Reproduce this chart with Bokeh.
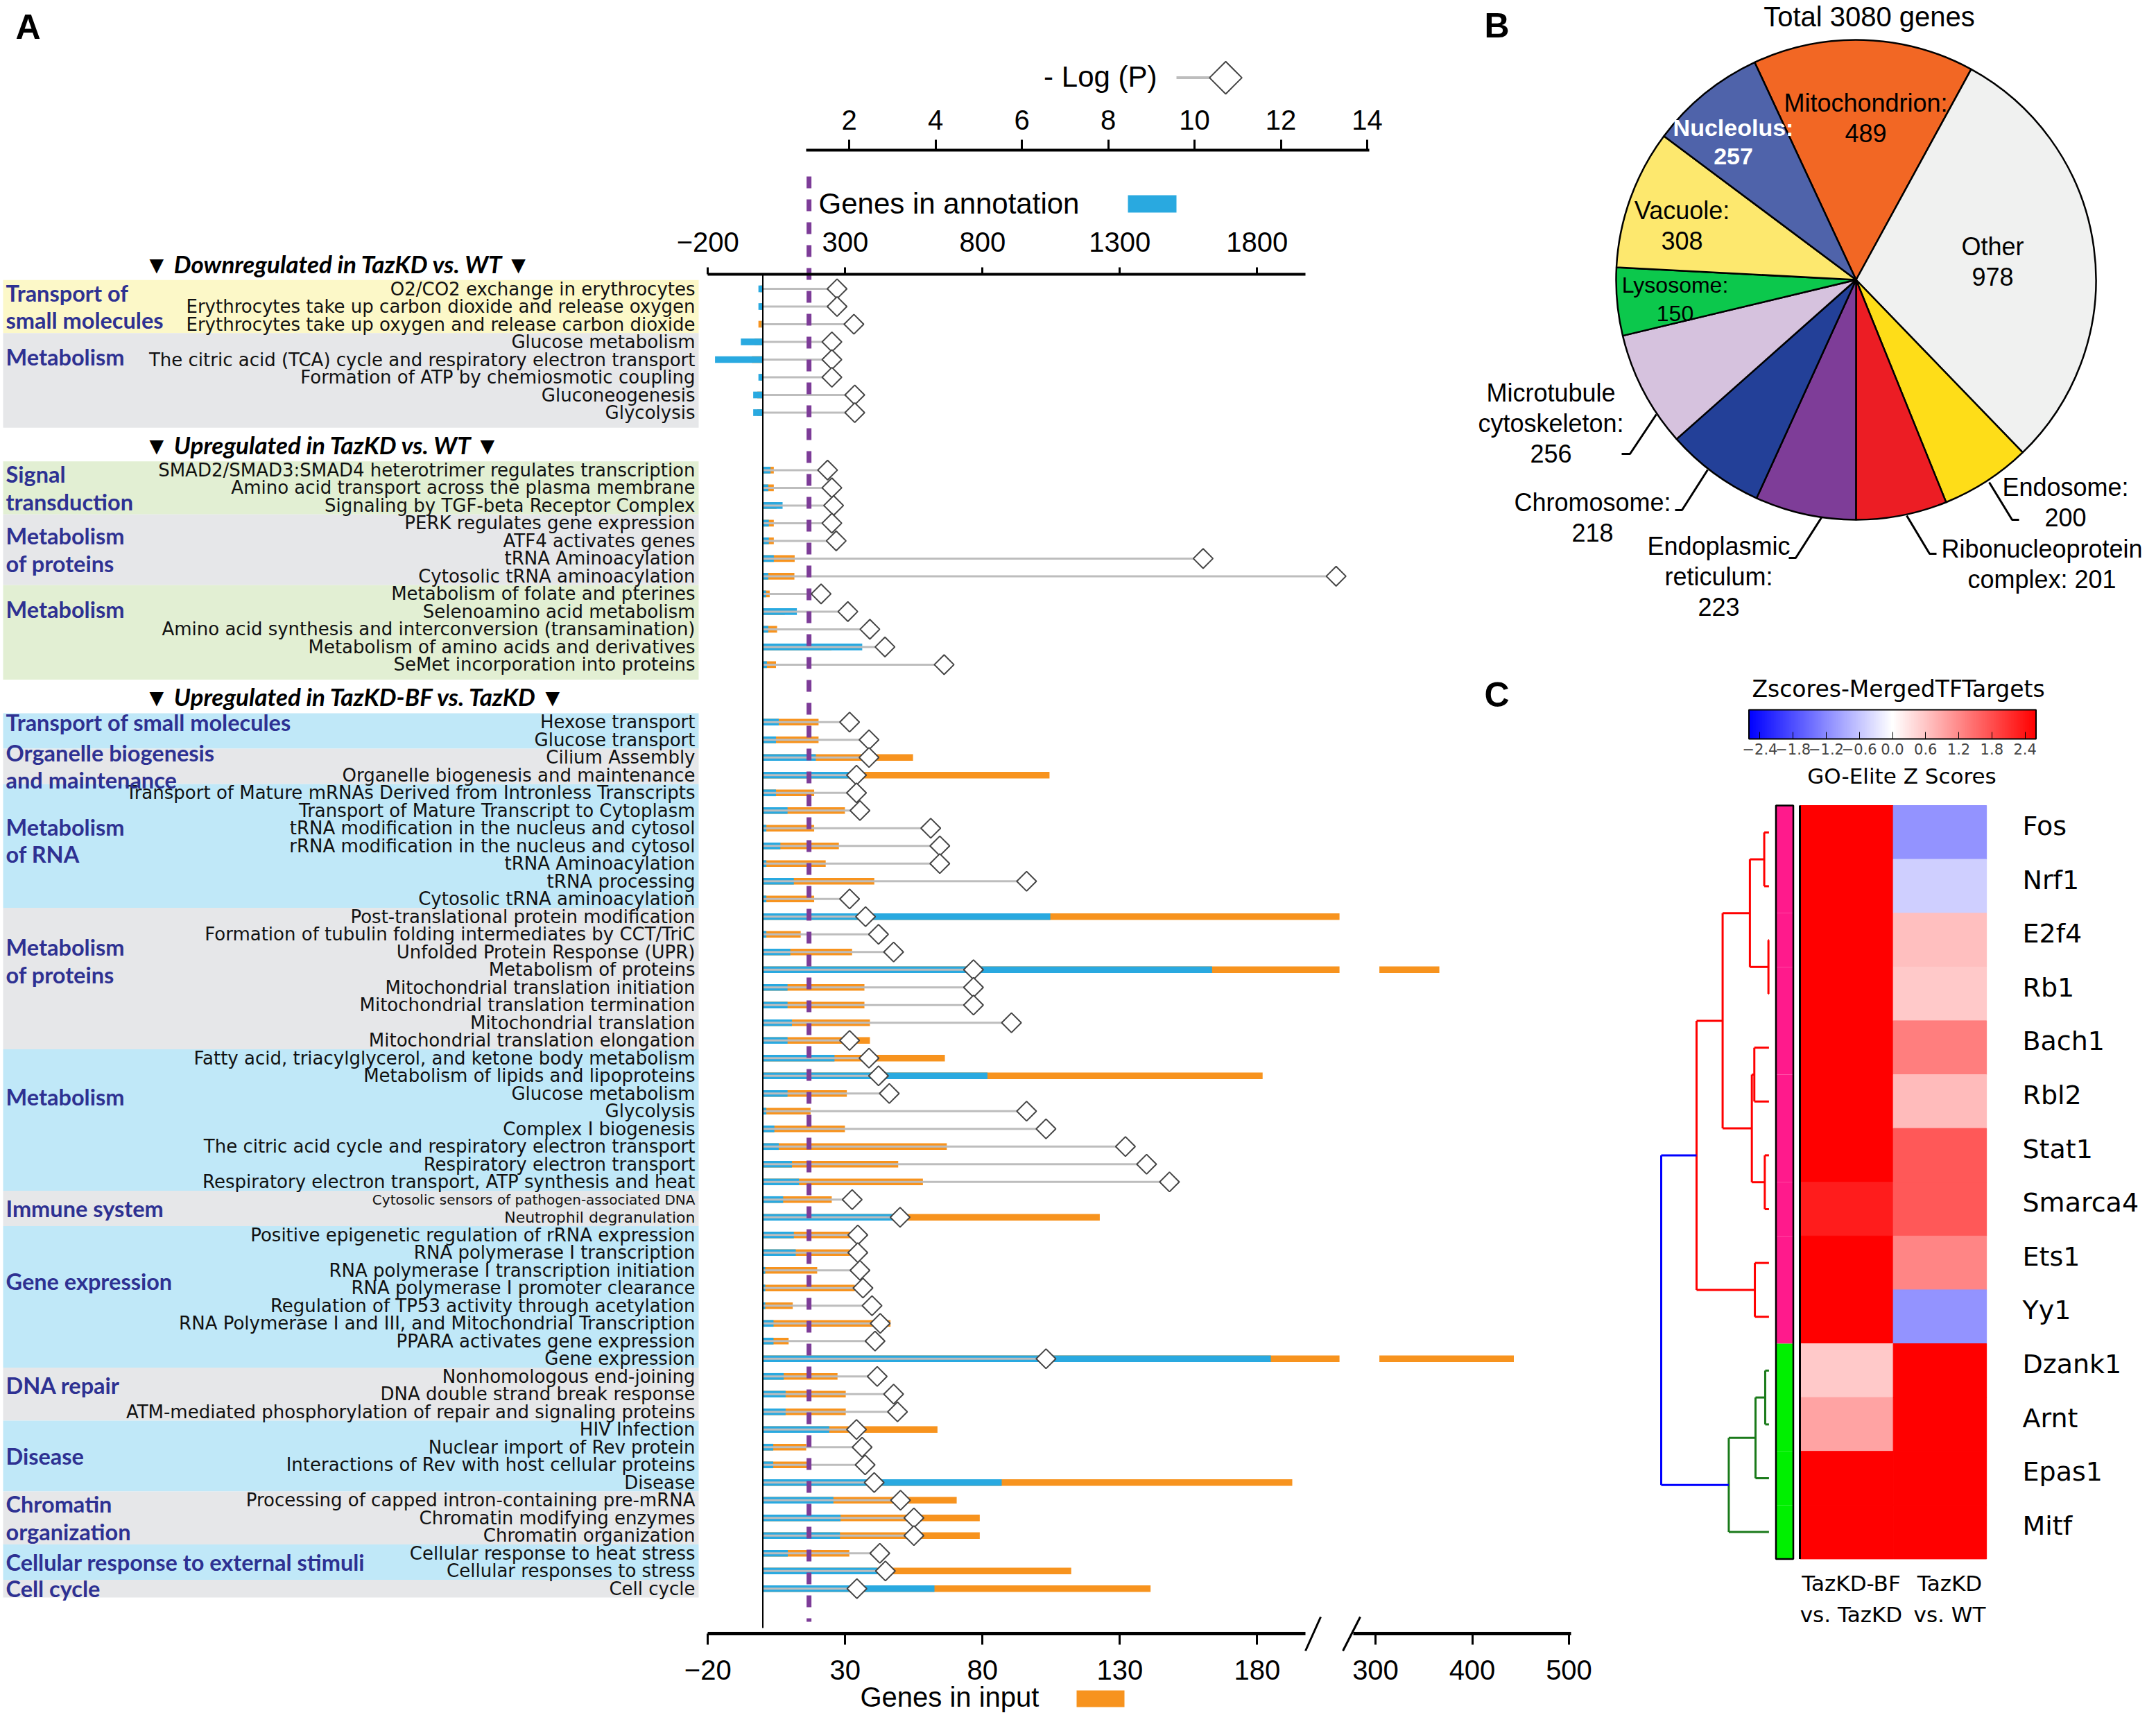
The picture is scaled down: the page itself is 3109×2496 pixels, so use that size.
import math
from bokeh.plotting import figure
from bokeh.models import (Range1d, LinearAxis, FixedTicker, ColumnDataSource, AllLabels,
                          LinearColorMapper, ColorBar, CustomJSTickFormatter, Grid)
from bokeh.core.properties import value
from bokeh.transform import transform
from bokeh.embed import file_html
from bokeh.resources import INLINE

# ======================= DATA : panel A =======================
section_titles = ["Downregulated in TazKD vs. WT",
                  "Upregulated in TazKD vs. WT",
                  "Upregulated in TazKD-BF vs. TazKD"]
section_group_counts = [2, 3, 12]

group_labels = ["Transport of\nsmall molecules", "Metabolism",
                "Signal\ntransduction", "Metabolism\nof proteins", "Metabolism",
                "Transport of small molecules", "Organelle biogenesis\nand maintenance",
                "Metabolism\nof RNA", "Metabolism\nof proteins", "Metabolism",
                "Immune system", "Gene expression", "DNA repair", "Disease",
                "Chromatin\norganization", "Cellular response to external stimuli",
                "Cell cycle"]
group_sizes = [3, 5, 3, 4, 5, 2, 2, 7, 8, 8, 2, 8, 3, 4, 3, 2, 1]

pathways = [
    "O2/CO2 exchange in erythrocytes",
    "Erythrocytes take up carbon dioxide and release oxygen",
    "Erythrocytes take up oxygen and release carbon dioxide",
    "Glucose metabolism",
    "The citric acid (TCA) cycle and respiratory electron transport",
    "Formation of ATP by chemiosmotic coupling",
    "Gluconeogenesis",
    "Glycolysis",
    "SMAD2/SMAD3:SMAD4 heterotrimer regulates transcription",
    "Amino acid transport across the plasma membrane",
    "Signaling by TGF-beta Receptor Complex",
    "PERK regulates gene expression",
    "ATF4 activates genes",
    "tRNA Aminoacylation",
    "Cytosolic tRNA aminoacylation",
    "Metabolism of folate and pterines",
    "Selenoamino acid metabolism",
    "Amino acid synthesis and interconversion (transamination)",
    "Metabolism of amino acids and derivatives",
    "SeMet incorporation into proteins",
    "Hexose transport",
    "Glucose transport",
    "Cilium Assembly",
    "Organelle biogenesis and maintenance",
    "Transport of Mature mRNAs Derived from Intronless Transcripts",
    "Transport of Mature Transcript to Cytoplasm",
    "tRNA modification in the nucleus and cytosol",
    "rRNA modification in the nucleus and cytosol",
    "tRNA Aminoacylation",
    "tRNA processing",
    "Cytosolic tRNA aminoacylation",
    "Post-translational protein modification",
    "Formation of tubulin folding intermediates by CCT/TriC",
    "Unfolded Protein Response (UPR)",
    "Metabolism of proteins",
    "Mitochondrial translation initiation",
    "Mitochondrial translation termination",
    "Mitochondrial translation",
    "Mitochondrial translation elongation",
    "Fatty acid, triacylglycerol, and ketone body metabolism",
    "Metabolism of lipids and lipoproteins",
    "Glucose metabolism",
    "Glycolysis",
    "Complex I biogenesis",
    "The citric acid cycle and respiratory electron transport",
    "Respiratory electron transport",
    "Respiratory electron transport, ATP synthesis and heat",
    "Cytosolic sensors of pathogen-associated DNA",
    "Neutrophil degranulation",
    "Positive epigenetic regulation of rRNA expression",
    "RNA polymerase I transcription",
    "RNA polymerase I transcription initiation",
    "RNA polymerase I promoter clearance",
    "Regulation of TP53 activity through acetylation",
    "RNA Polymerase I and III, and Mitochondrial Transcription",
    "PPARA activates gene expression",
    "Gene expression",
    "Nonhomologous end-joining",
    "DNA double strand break response",
    "ATM-mediated phosphorylation of repair and signaling proteins",
    "HIV Infection",
    "Nuclear import of Rev protein",
    "Interactions of Rev with host cellular proteins",
    "Disease",
    "Processing of capped intron-containing pre-mRNA",
    "Chromatin modifying enzymes",
    "Chromatin organization",
    "Cellular response to heat stress",
    "Cellular responses to stress",
    "Cell cycle",
]

genes_annotation = [
    -16, -16, -4, -80, -174, -16, -35, -35,
    28, 20, 72, 22, 22, 40, 20, 12, 124, 20, 362, 15,
    58, 48, 193, 316, 48, 90, 13, 64, 13, 113, 13,
    1047, 13, 100, 1636, 90, 90, 106, 90,
    261, 818, 90, 13, 42, 58, 106, 132,
    74, 477,
    113, 120, 9, 9, 9, 39, 39, 1850,
    76, 83, 83,
    242, 38, 38, 870,
    257, 283, 281,
    91, 417,
    625,
]

genes_input = [
    -1, -1, -1.6, -3, -4, -1, -2, -2,
    4, 4, 5, 4, 4, 11.6, 11.5, 2.5, 8, 5.2, 25, 4.8,
    20.3, 20.3, 54.7, 104.4, 18.7, 29.9, 18.7, 27.7, 22.9, 40.6, 18.7,
    280, 13.8, 32.5, 366, 37, 37, 39, 39,
    66.3, 182, 30.6, 17.4, 29.9, 67, 49.3, 58.3,
    25.1, 122.7,
    31.7, 31.7, 19.8, 33.5, 10.9, 46.5, 9.4, 443,
    27.2, 30.2, 30.2,
    63.6, 15.8, 16.7, 192.8,
    70.6, 79, 79,
    31.5, 112.3,
    141.2,
]

neg_log_p = [
    1.72, 1.72, 2.11, 1.60, 1.60, 1.60, 2.13, 2.13,
    1.50, 1.60, 1.64, 1.60, 1.70, 10.20, 13.28, 1.35, 1.97, 2.48, 2.83, 4.20,
    2.01, 2.46, 2.46, 2.17, 2.17, 2.25, 3.89, 4.10, 4.10, 6.11, 2.01,
    2.38, 2.68, 3.03, 4.88, 4.88, 4.88, 5.76, 2.01,
    2.46, 2.68, 2.93, 6.11, 6.56, 8.40, 8.89, 9.42,
    2.07, 3.18,
    2.20, 2.20, 2.25, 2.32, 2.53, 2.72, 2.60, 6.56,
    2.65, 3.03, 3.12,
    2.17, 2.30, 2.37, 2.58,
    3.19, 3.50, 3.50,
    2.71, 2.84,
    2.18,
]
p_threshold = 1.07

logp_ticks = [2, 4, 6, 8, 10, 12, 14]
annotation_ticks = [-200, 300, 800, 1300, 1800]
input_ticks_low = [-20, 30, 80, 130, 180]
input_ticks_high = [300, 400, 500]

# ======================= DATA : panel B =======================
pie_names = ["Mitochondrion", "Other", "Endosome", "Ribonucleoprotein complex",
             "Endoplasmic reticulum", "Chromosome", "Microtubule cytoskeleton",
             "Lysosome", "Vacuole", "Nucleolus"]
pie_counts = [489, 978, 200, 201, 223, 218, 256, 150, 308, 257]
pie_label_fmt = ["Mitochondrion:\n{n}", "Other\n{n}", "Endosome:\n{n}",
                 "Ribonucleoprotein\ncomplex: {n}", "Endoplasmic\nreticulum:\n{n}",
                 "Chromosome:\n{n}", "Microtubule\ncytoskeleton:\n{n}",
                 "Lysosome:\n{n}", "Vacuole:\n{n}", "Nucleolus:\n{n}"]
pie_title = "Total 3080 genes"

# ======================= DATA : panel C =======================
tf_names = ["Fos", "Nrf1", "E2f4", "Rb1", "Bach1", "Rbl2", "Stat1", "Smarca4",
            "Ets1", "Yy1", "Dzank1", "Arnt", "Epas1", "Mitf"]
z_bf_vs_kd = [2.6, 2.6, 2.6, 2.6, 2.6, 2.6, 2.6, 2.3, 2.6, 2.6, 0.55, 0.95, 2.6, 2.6]
z_kd_vs_wt = [-1.1, -0.5, 0.65, 0.55, 1.3, 0.7, 1.7, 1.7, 1.25, -1.1, 2.6, 2.6, 2.6, 2.6]
comparisons = ["TazKD-BF\nvs. TazKD", "TazKD\nvs. WT"]
tf_cluster = [1] * 10 + [2] * 4
# dendrogram merges (leaves 0..13, new nodes numbered from 14)
merge_a = [0, 2, 14, 4, 6, 17, 16, 8, 20, 10, 23, 24, 22]
merge_b = [1, 3, 15, 5, 7, 18, 19, 9, 21, 11, 12, 13, 25]
merge_height = [0.044, 0.005, 0.177, 0.136, 0.039, 0.159, 0.43, 0.131, 0.672,
                0.035, 0.125, 0.373, 1.0]
merge_cluster = [1, 1, 1, 1, 1, 1, 1, 1, 1, 2, 2, 2, 0]
cbar_ticks = [-2.4, -1.8, -1.2, -0.6, 0.0, 0.6, 1.2, 1.8, 2.4]

# ======================= STYLE / LAYOUT =======================
W, H = 3093, 2480
LO_X, HI_X, LO_Y, HI_Y = 0, W, 0, H

BLUE = "#29a9e0"
ORANGE = "#f7931e"
GRAY_LINE = "#bdbdbd"
PURPLE = "#7d3c98"
GROUP_BLUE = "#2e3192"
band_colors = ["#fcf8c8", "#e6e7e9", "#e2efd3", "#e6e7e9", "#e2efd3",
               "#c0e8f8", "#e6e7e9", "#c0e8f8", "#e6e7e9", "#c0e8f8", "#e6e7e9",
               "#c0e8f8", "#e6e7e9", "#c0e8f8", "#e6e7e9", "#c0e8f8", "#e6e7e9"]
group_label_shift = [0, -1.15, 0, 0, -1.15, -0.5, 0, -0.3, -1.0, -1.3, 0, -0.9,
                     -0.5, 0, 0, 0, 0]
pie_colors = ["#f26724", "#f0f1f0", "#fedd18", "#ec1d24", "#7e3d98", "#234098",
              "#d6c2de", "#0cc84c", "#fde86e", "#4f63aa"]
cluster_colors = {1: "#ff1a8c", 2: "#00f000"}
dend_colors = {0: "#0000ff", 1: "#ff0000", 2: "#1a7a1a"}


def rng(v0, p0, s, lo, hi):
    """Range such that value v0 sits at pixel p0 with s pixels per unit."""
    return Range1d(v0 + (lo - p0) / s, v0 + (hi - p0) / s)


ROW_PX0, ROW_PITCH = 416.0, 25.5
p = figure(width=W, height=H,
           x_range=rng(0, 1099.5, 3.96, LO_X, HI_X),          # genes in input (linear part)
           y_range=rng(0, ROW_PX0, ROW_PITCH, HI_Y, LO_Y),     # pathway rows, downward
           output_backend="svg", toolbar_location=None,
           x_axis_location=None, y_axis_location=None,
           min_border=0, outline_line_color=None,
           background_fill_color="white", border_fill_color="white")
for r in list(p.center):
    if isinstance(r, Grid):
        r.visible = False

p.extra_x_ranges = {
    "px": Range1d(LO_X, HI_X),
    "annot": rng(0, 1099.5, 0.396, LO_X, HI_X),
    "logp": rng(0, 1099.5, 62.25, LO_X, HI_X),
    "big": rng(300, 1983, 1.395, LO_X, HI_X),
    "piex": rng(0, 2676, 1.0, LO_X, HI_X),
    "hx": rng(0, 2662.4, 134.5, LO_X, HI_X),
    "dx": rng(0, 2550.4, -155.4, LO_X, HI_X),
}
p.extra_y_ranges = {
    "py": Range1d(HI_Y, LO_Y),
    "piey": rng(0, 403, -1.0, HI_Y, LO_Y),
    "hy": rng(0, 1199.8, 77.6, HI_Y, LO_Y),
}

# ---------- row positions ----------
SECTION_GAP = 2.25
row_pos, group_first, group_last, section_first, section_last = [], [], [], [], []
pos, gi = 0.0, 0
for s, ng in enumerate(section_group_counts):
    if s > 0:
        pos += SECTION_GAP
    section_first.append(pos)
    for g in range(ng):
        group_first.append(pos)
        for k in range(group_sizes[gi]):
            row_pos.append(pos)
            pos += 1
        group_last.append(pos - 1)
        gi += 1
    section_last.append(pos - 1)

# ---------- label panel ----------
band_top, band_bottom = [], []
for g in range(len(group_labels)):
    top = group_first[g] - 0.5
    bot = group_last[g] + 0.5
    if group_last[g] in section_last[:2]:
        bot += 0.35
    band_top.append(top)
    band_bottom.append(bot)
p.quad(left=4, right=1007, top=band_top, bottom=band_bottom, fill_color=band_colors,
       line_color=None, x_range_name="px")

small_rows = {"Cytosolic sensors of pathogen-associated DNA": "20px",
              "Neutrophil degranulation": "22px"}
row_font_sizes = [small_rows.get(n, "26px") for n in pathways]
p.text(x=1002, y=row_pos, text=pathways, text_align="right", text_baseline="middle",
       text_font=value("DejaVu Sans"), text_font_size=row_font_sizes,
       text_color="#111111", x_range_name="px")

group_y = [(group_first[g] + group_last[g]) / 2 + group_label_shift[g]
           for g in range(len(group_labels))]
p.text(x=8, y=group_y, text=group_labels, text_align="left", text_baseline="middle",
       text_font=value("Lato"), text_font_style="bold", text_font_size="32.5px",
       text_line_height=1.02, text_color=GROUP_BLUE, x_range_name="px")

header_y = [sf - 1.45 for sf in section_first]
p.text(x=208, y=header_y, text=["\u25BC  " + t + "  \u25BC" for t in section_titles],
       text_align="left", text_baseline="middle", text_font=value("Lato"),
       text_font_style="bold italic", text_font_size="35px", text_color="black",
       x_range_name="px")

# ---------- bars ----------
BREAK_LO = 210.0      # input-axis position where the broken bar stops
BREAK_HI = 304.0      # value where the bar resumes on the compressed scale
BAR_H = 0.38
orange_right = [min(v, BREAK_LO) for v in genes_input]
p.hbar(y=row_pos, left=0, right=orange_right, height=BAR_H, fill_color=ORANGE,
       line_color=None)
big_rows = [r for r, v in zip(row_pos, genes_input) if v > BREAK_HI]
big_vals = [v for v in genes_input if v > BREAK_HI]
p.hbar(y=big_rows, left=BREAK_HI, right=big_vals, height=BAR_H, fill_color=ORANGE,
       line_color=None, x_range_name="big")
p.hbar(y=row_pos, left=0, right=genes_annotation, height=BAR_H, fill_color=BLUE,
       line_color=None, x_range_name="annot")
p.segment(x0=0, y0=row_pos, x1=neg_log_p, y1=row_pos, line_color=GRAY_LINE,
          line_width=3, x_range_name="logp")

# zero line & threshold line
p.segment(x0=[0], y0=[395], x1=[0], y1=[2347], line_color="black", line_width=2,
          y_range_name="py")
p.segment(x0=[p_threshold], y0=[254], x1=[p_threshold], y1=[2338], line_color=PURPLE,
          line_width=7, line_dash="17 16", x_range_name="logp", y_range_name="py")

p.scatter(x=neg_log_p, y=row_pos, marker="square", angle=math.pi / 4, size=20,
          fill_color="white", line_color="#444444", line_width=2, x_range_name="logp")

# ---------- axes ----------
def style_axis(ax, tick_out, standoff, lw=4):
    ax.axis_line_width = lw
    ax.axis_line_color = "black"
    ax.major_tick_line_width = 3
    ax.major_tick_line_color = "black"
    ax.major_tick_out = tick_out
    ax.major_tick_in = 0
    ax.minor_tick_out = 0
    ax.minor_tick_in = 0
    ax.major_label_text_font = "Liberation Sans"
    ax.major_label_text_font_size = "40px"
    ax.major_label_text_color = "black"
    ax.major_label_standoff = standoff


ax_logp = LinearAxis(x_range_name="logp", y_range_name="py", fixed_location=215.6,
                     bounds=(1.0, 14.05), ticker=FixedTicker(ticks=logp_ticks))
style_axis(ax_logp, 15, 14)
p.add_layout(ax_logp, "above")

ax_ann = LinearAxis(x_range_name="annot", y_range_name="py", fixed_location=395,
                    bounds=(-200, 1977), ticker=FixedTicker(ticks=annotation_ticks))
style_axis(ax_ann, 10, 23)
p.add_layout(ax_ann, "above")

ax_in1 = LinearAxis(y_range_name="py", fixed_location=2355, bounds=(-20, 197.5),
                    ticker=FixedTicker(ticks=input_ticks_low))
style_axis(ax_in1, 16, 22, lw=5)
p.add_layout(ax_in1, "below")

ax_in2 = LinearAxis(x_range_name="big", y_range_name="py", fixed_location=2355,
                    bounds=(277, 502), ticker=FixedTicker(ticks=input_ticks_high))
style_axis(ax_in2, 16, 22, lw=5)
p.add_layout(ax_in2, "below")

# axis break marks
p.segment(x0=[1882, 1936], y0=[2380, 2380], x1=[1904, 1961], y1=[2331, 2331],
          line_color="black", line_width=3, x_range_name="px", y_range_name="py")

# legends of panel A
p.text(x=[1668], y=[110], text=["- Log (P)"], text_align="right", text_baseline="middle",
       text_font=value("Liberation Sans"), text_font_size="42px", x_range_name="px",
       y_range_name="py")
p.segment(x0=[1696], y0=[111.6], x1=[1750], y1=[111.6], line_color=GRAY_LINE, line_width=4,
          x_range_name="px", y_range_name="py")
p.scatter(x=[1767], y=[111.6], marker="square", angle=math.pi / 4, size=33,
          fill_color="white", line_color="#444444", line_width=2, x_range_name="px",
          y_range_name="py")
p.text(x=[1180], y=[293], text=["Genes in annotation"], text_align="left",
       text_baseline="middle", text_font=value("Liberation Sans"), text_font_size="42px",
       x_range_name="px", y_range_name="py")
p.quad(left=[1626], right=[1696], top=[281], bottom=[306], fill_color=BLUE, line_color=None,
       x_range_name="px", y_range_name="py")
p.text(x=[1240], y=[2446], text=["Genes in input"], text_align="left",
       text_baseline="middle", text_font=value("Liberation Sans"), text_font_size="40px",
       x_range_name="px", y_range_name="py")
p.quad(left=[1552], right=[1621], top=[2437], bottom=[2461], fill_color=ORANGE,
       line_color=None, x_range_name="px", y_range_name="py")

# panel letters
p.text(x=[22, 2140, 2140], y=[38, 36, 1001], text=["A", "B", "C"], text_align="left",
       text_baseline="middle", text_font=value("Liberation Sans"), text_font_style="bold",
       text_font_size="50px", x_range_name="px", y_range_name="py")

# ======================= panel B : pie =======================
total = float(sum(pie_counts))
PIE_START = math.radians(115)
ends, starts, acc = [], [], 0.0
for c in pie_counts:
    starts.append(PIE_START - acc / total * 2 * math.pi)
    acc += c
    ends.append(PIE_START - acc / total * 2 * math.pi)
p.wedge(x=0, y=0, radius=346, start_angle=starts, end_angle=ends, direction="clock",
        fill_color=pie_colors, line_color="black", line_width=2.5,
        x_range_name="piex", y_range_name="piey")

pie_labels = [f.format(n=c) for f, c in zip(pie_label_fmt, pie_counts)]
label_xy = {"Mitochondrion": (2690, 170), "Other": (2873, 377), "Endosome": (2978, 724),
            "Ribonucleoprotein complex": (2944, 813), "Endoplasmic reticulum": (2478, 831),
            "Chromosome": (2296, 746), "Microtubule cytoskeleton": (2236, 610),
            "Lysosome": (2415, 431), "Vacuole": (2425, 325), "Nucleolus": (2499, 204)}
normal = [i for i, n in enumerate(pie_names) if n not in ("Nucleolus", "Lysosome")]
p.text(x=[label_xy[pie_names[i]][0] for i in normal],
       y=[label_xy[pie_names[i]][1] for i in normal],
       text=[pie_labels[i] for i in normal], text_align="center", text_baseline="middle",
       text_font=value("Liberation Sans"), text_font_size="36px", text_line_height=1.08,
       text_color="black", x_range_name="px", y_range_name="py")
i_n = pie_names.index("Nucleolus")
p.text(x=[label_xy["Nucleolus"][0]], y=[label_xy["Nucleolus"][1]], text=[pie_labels[i_n]],
       text_align="center", text_baseline="middle", text_font=value("Liberation Sans"),
       text_font_style="bold", text_font_size="34px", text_line_height=1.08,
       text_color="white", x_range_name="px", y_range_name="py")
i_l = pie_names.index("Lysosome")
p.text(x=[label_xy["Lysosome"][0]], y=[label_xy["Lysosome"][1]], text=[pie_labels[i_l]],
       text_align="center", text_baseline="middle", text_font=value("Liberation Sans"),
       text_font_size="32px", text_line_height=1.12, text_color="black",
       x_range_name="px", y_range_name="py")
p.text(x=[2695], y=[1], text=[pie_title], text_align="center", text_baseline="top",
       text_font=value("Liberation Sans"), text_font_size="40px", x_range_name="px",
       y_range_name="py")
# leader lines
p.multi_line(xs=[[2338, 2350, 2388], [2415, 2425, 2462], [2579, 2589, 2626],
                 [2792, 2782, 2749], [2911, 2901, 2868]],
             ys=[[654, 654, 597], [735, 735, 677], [804, 804, 746],
                 [798, 798, 743], [749, 749, 695]],
             line_color="black", line_width=3, x_range_name="px", y_range_name="py")

# ======================= panel C : heatmap =======================
def blend(c1, c2, t):
    return "#%02x%02x%02x" % tuple(int(round(a + (b - a) * t)) for a, b in zip(c1, c2))


palette = [blend((0, 0, 255), (255, 255, 255), i / 127) for i in range(128)] + \
          [blend((255, 255, 255), (255, 0, 0), i / 127) for i in range(128)]
mapper = LinearColorMapper(palette=palette, low=-2.6, high=2.6)

n_tf = len(tf_names)
hm = ColumnDataSource(dict(col=[0] * n_tf + [1] * n_tf,
                           row=list(range(n_tf)) * 2,
                           z=z_bf_vs_kd + z_kd_vs_wt))
p.rect(x="col", y="row", width=1, height=1, source=hm,
       fill_color=transform("z", mapper), line_color=transform("z", mapper), line_width=1,
       x_range_name="hx", y_range_name="hy")
# heatmap left edge line
p.segment(x0=[2595], y0=[-0.5], x1=[2595], y1=[n_tf - 0.5], line_color="black",
          line_width=3, x_range_name="px", y_range_name="hy")
# cluster side bar
p.rect(x=2573, y=list(range(n_tf)), width=25, height=1,
       fill_color=[cluster_colors[c] for c in tf_cluster], line_color=None,
       x_range_name="px", y_range_name="hy")
p.rect(x=[2573], y=[(n_tf - 1) / 2], width=25, height=n_tf, fill_color=None,
       line_color="black", line_width=2.5, x_range_name="px", y_range_name="hy")

p.text(x=2916, y=[i - 0.12 for i in range(n_tf)], text=tf_names, text_align="left",
       text_baseline="middle", text_font=value("DejaVu Sans"), text_font_size="38px",
       text_color="black", x_range_name="px", y_range_name="hy")
p.text(x=[2669, 2811], y=[2305, 2305], text=comparisons, text_align="center",
       text_baseline="middle", text_font=value("DejaVu Sans"), text_font_size="31px",
       text_line_height=1.24, x_range_name="px", y_range_name="py")

# dendrogram
node_y = {i: float(i) for i in range(n_tf)}
node_h = {i: 0.0 for i in range(n_tf)}
dx0, dy0, dx1, dy1, dcol = [], [], [], [], []
for k, (a, b, h, cl) in enumerate(zip(merge_a, merge_b, merge_height, merge_cluster)):
    nid = n_tf + k
    col = dend_colors[cl]
    ya, yb = node_y[a], node_y[b]
    dx0 += [h, h, h]; dy0 += [ya, ya, yb]
    dx1 += [h, node_h[a], node_h[b]]; dy1 += [yb, ya, yb]
    dcol += [col] * 3
    node_y[nid] = (ya + yb) / 2
    node_h[nid] = h
p.segment(x0=dx0, y0=dy0, x1=dx1, y1=dy1, line_color=dcol, line_width=3,
          x_range_name="dx", y_range_name="hy")

# colour bar
cb = ColorBar(color_mapper=mapper, orientation="horizontal", width=414, height=42,
              location=(2521.5, 1390), padding=0,
              ticker=FixedTicker(ticks=cbar_ticks),
              formatter=CustomJSTickFormatter(code="return tick.toFixed(1).replace('-', '\u2212');"),
              major_label_policy=AllLabels(),
              major_label_text_font="DejaVu Sans", major_label_text_font_size="21px",
              major_tick_line_color="black", major_tick_in=10, major_tick_out=0,
              minor_tick_line_color=None, bar_line_color="black", bar_line_width=2,
              label_standoff=6, background_fill_alpha=0, border_line_color=None)
p.add_layout(cb)
p.text(x=[2737, 2742], y=[993, 1118], text=["Zscores-MergedTFTargets", "GO-Elite Z Scores"],
       text_align="center", text_baseline="middle", text_font=value("DejaVu Sans"),
       text_font_size=["33px", "31px"], x_range_name="px", y_range_name="py")

open("out.html", "w").write(file_html(p, INLINE))
